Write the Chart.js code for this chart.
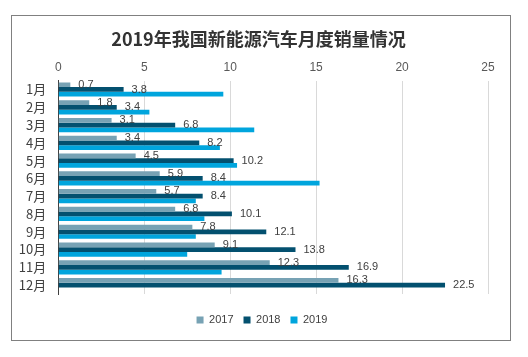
<!DOCTYPE html>
<html>
<head>
<meta charset="utf-8">
<script src="https://cdn.jsdelivr.net/npm/chart.js@4/dist/chart.umd.min.js"></script>
<style>
html,body{margin:0;padding:0;background:#fff;}
#wrap{position:relative;width:528px;height:357px;}
</style>
</head>
<body>
<div id="wrap"><canvas id="c" width="528" height="357"></canvas></div>
<script>
const categories = ['1月','2月','3月','4月','5月','6月','7月','8月','9月','10月','11月','12月'];
const seriesNames = ['2017','2018','2019'];
const sales2017 = [0.7, 1.8, 3.1, 3.4, 4.5, 5.9, 5.7, 6.8, 7.8, 9.1, 12.3, 16.3];
const sales2018 = [3.8, 3.4, 6.8, 8.2, 10.2, 8.4, 8.4, 10.1, 12.1, 13.8, 16.9, 22.5];
const sales2019 = [9.6, 5.3, 11.4, 9.4, 10.4, 15.2, 8.0, 8.5, 8.0, 7.5, 9.5, null];
const xTicks = [0, 5, 10, 15, 20, 25];
const titleText = '2019年我国新能源汽车月度销量情况';

const latin = "'Liberation Sans', Arial, 'Noto Sans CJK SC', sans-serif";

const borderPlugin = {
  id: 'outerBorder',
  beforeDraw(chart) {
    const ctx = chart.ctx;
    ctx.save();
    ctx.fillStyle = '#fff';
    ctx.fillRect(0, 0, chart.width, chart.height);
    ctx.strokeStyle = '#808080';
    ctx.lineWidth = 1;
    ctx.strokeRect(11.5, 15.5, 499, 325);
    ctx.restore();
  }
};

// center title and legend on the outer frame rather than on the padded canvas
const shiftPlugin = {
  id: 'shiftBlocks',
  afterLayout(chart) {
    const t = chart.titleBlock;
    if (t) { t.left += 14.5; t.right += 14.5; }
    const l = chart.legend;
    if (l) { l.left += 18; l.right += 18; }
  }
};

const labelPlugin = {
  id: 'valueLabels',
  afterDatasetsDraw(chart) {
    const ctx = chart.ctx;
    ctx.save();
    ctx.font = '11px ' + latin;
    ctx.fillStyle = '#404040';
    ctx.textAlign = 'left';
    ctx.textBaseline = 'middle';
    [0, 1].forEach(di => {
      const meta = chart.getDatasetMeta(di);
      const data = chart.data.datasets[di].data;
      meta.data.forEach((bar, i) => {
        if (data[i] == null) return;
        ctx.fillText(data[i].toFixed(1), bar.x + 8, bar.y);
      });
    });
    ctx.restore();
  }
};

new Chart(document.getElementById('c'), {
  type: 'bar',
  data: {
    labels: categories,
    datasets: [
      { label: seriesNames[0], data: sales2017, backgroundColor: '#77A2B4' },
      { label: seriesNames[1], data: sales2018, backgroundColor: '#03506F' },
      { label: seriesNames[2], data: sales2019, backgroundColor: '#00A5DD' }
    ]
  },
  options: {
    indexAxis: 'y',
    responsive: false,
    animation: false,
    devicePixelRatio: 1,
    datasets: { bar: { categoryPercentage: 0.8, barPercentage: 1.0 } },
    layout: { padding: { left: 0, right: 40, top: 0, bottom: 21.5 } },
    plugins: {
      title: {
        display: true,
        text: titleText,
        color: '#333333',
        font: { family: "'Noto Sans CJK SC', sans-serif", size: 18, weight: 'bold', lineHeight: 1.2 },
        padding: { top: 28, bottom: 11 }
      },
      legend: {
        position: 'bottom',
        labels: {
          boxWidth: 7, boxHeight: 7, padding: 10,
          color: '#404040',
          font: { family: latin, size: 11 }
        }
      },
      tooltip: { enabled: false }
    },
    scales: {
      x: {
        position: 'top',
        min: 0, max: 25,
        afterBuildTicks: s => { s.ticks = xTicks.map(v => ({ value: v })); },
        afterFit: s => { s.height = 20; },
        grid: { color: '#D9D9D9', drawTicks: false },
        border: { display: false },
        ticks: { color: '#595959', padding: 6, font: { family: latin, size: 12 } }
      },
      x2: {
        position: 'bottom',
        axis: 'x',
        display: true,
        grid: { display: false, drawTicks: false },
        border: { display: false },
        ticks: { display: false },
        afterFit: s => { s.height = 10.5; }
      },
      y: {
        afterFit: s => { s.width = 58.3; },
        grid: { display: false, drawTicks: false },
        border: { display: true, color: '#404040', width: 1 },
        ticks: { autoSkip: false, color: '#404040', padding: 12, font: { family: "'Noto Sans CJK SC', " + latin, size: 13, lineHeight: 1.0 } }
      }
    }
  },
  plugins: [borderPlugin, shiftPlugin, labelPlugin]
});
</script>
</body>
</html>
